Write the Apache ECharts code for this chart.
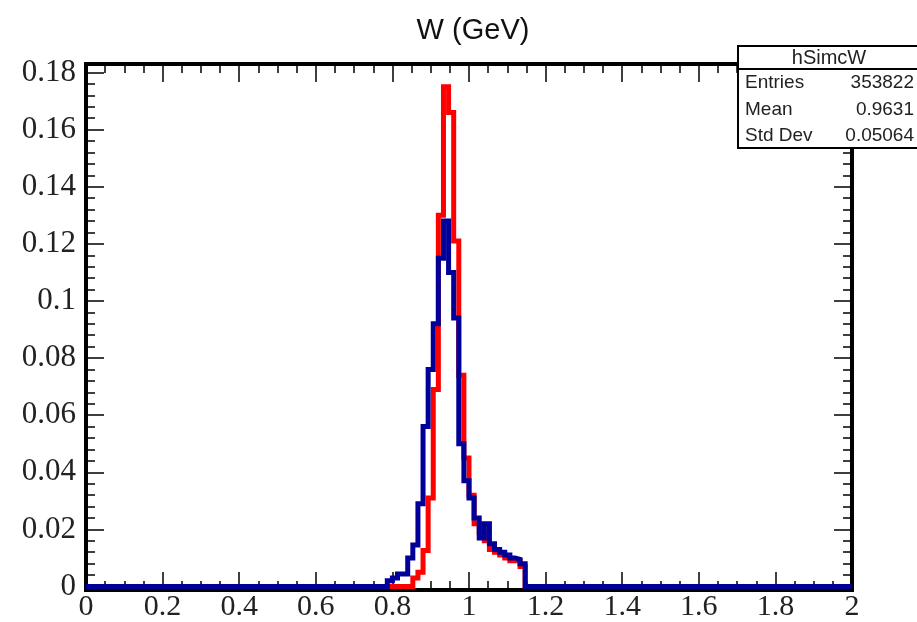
<!DOCTYPE html>
<html>
<head>
<meta charset="utf-8">
<script src="https://cdn.jsdelivr.net/npm/echarts@6/dist/echarts.min.js"></script>
<style>
html,body{margin:0;padding:0;background:#fff;}
#chart{width:917px;height:622px;}
</style>
</head>
<body>
<div id="chart"></div>
<script>
// ---- data (histogram: 150 bins over 0..2, values given from bin index firstBin) ----
const titleText = "W (GeV)";
const xMin = 0, xMax = 2, nBins = 150;
const firstBin = 58;
// blue histogram (hSimcW), bins 58..86
const blueValues = [0, 0.002, 0.003, 0.0044, 0.0044, 0.010, 0.0145, 0.029, 0.056, 0.076,
                    0.092, 0.115, 0.128, 0.110, 0.094, 0.050, 0.037, 0.031, 0.024, 0.017,
                    0.022, 0.015, 0.013, 0.012, 0.011, 0.010, 0.0095, 0.008, 0];
// red histogram, bins 58..86
const redValues  = [0, 0, 0, 0, 0, 0, 0.003, 0.005, 0.0126, 0.031,
                    0.069, 0.130, 0.175, 0.166, 0.121, 0.074, 0.045, 0.032, 0.022, 0.019,
                    0.016, 0.013, 0.012, 0.011, 0.010, 0.009, 0.009, 0.007, 0];
const xTicks = [0, 0.2, 0.4, 0.6, 0.8, 1, 1.2, 1.4, 1.6, 1.8, 2];
const yTicks = [0, 0.02, 0.04, 0.06, 0.08, 0.1, 0.12, 0.14, 0.16, 0.18];
const statsName = "hSimcW";
const statsLabels = ["Entries", "Mean", "Std Dev"];
const statsValues = ["353822", "0.9631", "0.05064"];

const binWidth = (xMax - xMin) / nBins;
function histPoints(vals) {
  const pts = [[xMin, 0]];
  vals.forEach((v, i) => pts.push([xMin + (firstBin + i) * binWidth, v]));
  pts.push([xMax, vals[vals.length - 1]]);
  return pts;
}

const chart = echarts.init(document.getElementById('chart'), null, {renderer: 'canvas'});

const frameLine = {show: true, onZero: false, lineStyle: {color: '#000', width: 4, cap: 'square'}};
const tickStyle = {color: '#000', width: 1.5};
function xAxisDef(pos, showLabel, offset) {
  return {
    type: 'value', position: pos, min: xMin, max: xMax, interval: 0.2, offset: offset,
    axisLine: frameLine,
    axisTick: {show: true, inside: true, length: 18, lineStyle: tickStyle},
    minorTick: {show: true, splitNumber: 4, length: 9, lineStyle: tickStyle},
    splitLine: {show: false}, minorSplitLine: {show: false},
    axisLabel: {show: showLabel, fontFamily: 'Liberation Serif', fontSize: 30, color: '#222', margin: 2,
      formatter: v => xTicks.includes(+v.toFixed(4)) ? String(+v.toFixed(4)) : ''},
    z: 1
  };
}
function yAxisDef(pos, showLabel) {
  return {
    type: 'value', position: pos, min: 0, max: 0.183, interval: 0.02,
    axisLine: frameLine,
    axisTick: {show: true, inside: true, length: 18, lineStyle: tickStyle},
    minorTick: {show: true, splitNumber: 5, length: 9, lineStyle: tickStyle},
    splitLine: {show: false}, minorSplitLine: {show: false},
    axisLabel: {show: showLabel, fontFamily: 'Liberation Serif', fontSize: 31, color: '#222', margin: 10,
      showMaxLabel: false,
      formatter: v => yTicks.includes(+v.toFixed(4)) ? String(+v.toFixed(4)) : ''},
    z: 1
  };
}

const statsGraphics = [
  {type: 'rect', shape: {x: 738, y: 46, width: 200, height: 102},
   style: {fill: '#fff', stroke: '#000', lineWidth: 2}, z: 100},
  {type: 'line', shape: {x1: 738, y1: 69, x2: 917, y2: 69},
   style: {stroke: '#000', lineWidth: 2}, z: 100},
  {type: 'text', x: 829, y: 58, z: 101,
   style: {text: statsName, fontFamily: 'Liberation Sans', fontSize: 20, fill: '#222', align: 'center', verticalAlign: 'middle'}}
];
statsLabels.forEach((lab, i) => {
  const y = 83 + i * 26.5;
  statsGraphics.push({type: 'text', x: 745, y: y, z: 101,
    style: {text: lab, fontFamily: 'Liberation Sans', fontSize: 19, fill: '#222', align: 'left', verticalAlign: 'middle'}});
  statsGraphics.push({type: 'text', x: 914, y: y, z: 101,
    style: {text: statsValues[i], fontFamily: 'Liberation Sans', fontSize: 19, fill: '#222', align: 'right', verticalAlign: 'middle'}});
});

chart.setOption({
  animation: false,
  backgroundColor: '#fff',
  title: {
    text: titleText, left: 468, top: 11, textAlign: 'center',
    textStyle: {fontFamily: 'Liberation Sans', fontSize: 29, fontWeight: 'normal', color: '#111'}
  },
  grid: {left: 86, right: 65, top: 64, bottom: 35.5, containLabel: false, outerBoundsMode: 'none'},
  xAxis: [xAxisDef('bottom', true, 3.5), xAxisDef('top', false, 0)],
  yAxis: [yAxisDef('left', true), yAxisDef('right', false)],
  series: [
    {type: 'line', name: 'red', data: histPoints(redValues), step: 'end', showSymbol: false, symbol: 'none',
     clip: false, lineStyle: {color: '#ff0000', width: 5, cap: 'butt', join: 'miter'}, z: 3},
    {type: 'line', name: statsName, data: histPoints(blueValues), step: 'end', showSymbol: false, symbol: 'none',
     clip: false, lineStyle: {color: '#000099', width: 5, cap: 'butt', join: 'miter'}, z: 4}
  ],
  graphic: statsGraphics
});
</script>
</body>
</html>
